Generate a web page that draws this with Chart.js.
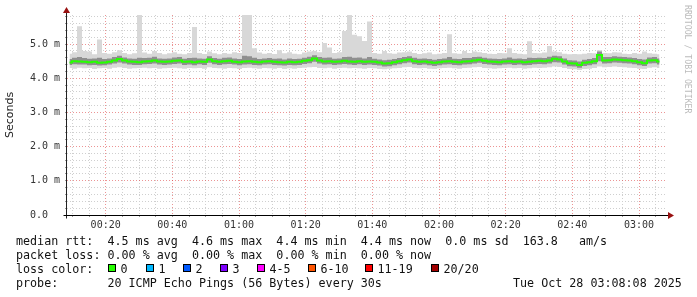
<!DOCTYPE html>
<html>
<head>
<meta charset="utf-8">
<script src="https://cdn.jsdelivr.net/npm/chart.js@4"></script>
<style>
  body { margin: 0; background: #fff; }
  #wrap { position: relative; width: 697px; height: 297px; overflow: hidden; }
  #chart { position: absolute; left: 0; top: 0; }
  .txt { position: absolute; font-family: 'DejaVu Sans Mono', monospace; font-size: 11.7px; line-height: 14px; color: #111; white-space: pre; }
  .sq { position: absolute; width: 8px; height: 8px; box-sizing: border-box; border: 1px solid #000; }
  #mark { position: absolute; left: 683px; top: 5px; writing-mode: vertical-rl; font-family: 'DejaVu Sans Mono', monospace; font-size: 8.2px; color: #bbb; white-space: pre; }
</style>
</head>
<body>
<div id="wrap">
  <canvas id="chart" width="697" height="297"></canvas>
  <div id="mark">RRDTOOL / TOBI OETIKER</div>
  <div class="txt" style="left:16px; top:234px;">median rtt:  4.5 ms avg  4.6 ms max  4.4 ms min  4.4 ms now  0.0 ms sd  163.8   am/s</div>
  <div class="txt" style="left:16px; top:248px;">packet loss: 0.00 % avg  0.00 % max  0.00 % min  0.00 % now</div>
  <div class="txt" style="left:16px; top:262px;">loss color:</div>
  <div id="lossLegend"></div>
  <div class="txt" style="left:16px; top:276px;">probe:       20 ICMP Echo Pings (56 Bytes) every 30s</div>
  <div class="txt" style="left:513px; top:276px;">Tue Oct 28 03:08:08 2025</div>
</div>
<script>
// time window in minutes after midnight (00:08:24 .. 03:08:24), one bucket = 1.5 min
const windowStart = 8.4;
const windowEnd = 188.4;
const bucketStep = 1.5;

const timeLabels = ['00:20', '00:40', '01:00', '01:20', '01:40', '02:00', '02:20', '02:40', '03:00'];
const yTickLabels = ['0.0  ', '1.0 m', '2.0 m', '3.0 m', '4.0 m', '5.0 m'];

// loss legend
const lossLabels = ['0', '1', '2', '3', '4-5', '6-10', '11-19', '20/20'];
const lossColors = ['#26ff00', '#00b8ff', '#0059ff', '#7e00ff', '#ff00ff', '#ff5500', '#ff0000', '#a10000'];
const lossX = [108, 146, 183, 220, 257, 308, 365, 431];

// rtt per bucket (ms)
const rttMedian = [
  4.46, 4.50, 4.49, 4.48, 4.47, 4.48, 4.45, 4.46, 4.48, 4.52,
  4.56, 4.52, 4.49, 4.48, 4.47, 4.49, 4.50, 4.52, 4.49, 4.48,
  4.49, 4.51, 4.52, 4.48, 4.49, 4.47, 4.49, 4.48, 4.55, 4.50,
  4.48, 4.50, 4.51, 4.48, 4.47, 4.49, 4.50, 4.48, 4.47, 4.49,
  4.50, 4.48, 4.47, 4.46, 4.48, 4.47, 4.48, 4.51, 4.53, 4.58,
  4.52, 4.49, 4.50, 4.48, 4.49, 4.51, 4.49, 4.48, 4.50, 4.48,
  4.49, 4.48, 4.46, 4.43, 4.44, 4.47, 4.50, 4.53, 4.55, 4.50,
  4.48, 4.49, 4.47, 4.45, 4.47, 4.49, 4.50, 4.48, 4.47, 4.49,
  4.50, 4.52, 4.54, 4.51, 4.49, 4.48, 4.47, 4.49, 4.50, 4.48,
  4.49, 4.47, 4.48, 4.50, 4.51, 4.50, 4.52, 4.57, 4.55, 4.49,
  4.44, 4.43, 4.39, 4.45, 4.47, 4.50, 4.68, 4.52, 4.53, 4.55,
  4.54, 4.53, 4.52, 4.50, 4.47, 4.44, 4.52, 4.53, 4.49
];
const rttMax = [
  4.72, 4.76, 5.52, 4.80, 4.78, 4.70, 5.13, 4.74, 4.72, 4.76,
  4.82, 4.74, 4.70, 4.73, 5.86, 4.75, 4.72, 4.80, 4.74, 4.70,
  4.73, 4.76, 4.72, 4.70, 4.74, 5.50, 4.74, 4.71, 4.78, 4.73,
  4.70, 4.74, 4.72, 4.76, 4.74, 5.86, 5.86, 4.88, 4.75, 4.72,
  4.74, 4.71, 4.82, 4.73, 4.76, 4.72, 4.70, 4.75, 4.78, 4.80,
  4.76, 5.03, 4.90, 4.74, 4.76, 5.38, 5.88, 5.27, 5.23, 5.09,
  5.66, 4.74, 4.72, 4.80, 4.73, 4.72, 4.75, 4.76, 4.78, 4.74,
  4.71, 4.73, 4.75, 4.70, 4.72, 4.74, 5.29, 4.73, 4.72, 4.80,
  4.74, 4.78, 4.76, 4.74, 4.72, 4.71, 4.74, 4.73, 4.88, 4.74,
  4.72, 4.70, 5.08, 4.74, 4.73, 4.75, 4.94, 4.78, 4.76, 4.72,
  4.70, 4.71, 4.70, 4.72, 4.74, 4.73, 4.82, 4.74, 4.73, 4.76,
  4.75, 4.72, 4.71, 4.74, 4.72, 4.78, 4.73, 4.72, 4.70
];
const rttMin = [
  4.30, 4.28, 4.31, 4.29, 4.30, 4.27, 4.29, 4.30, 4.28, 4.31,
  4.32, 4.30, 4.28, 4.29, 4.30, 4.31, 4.29, 4.30, 4.28, 4.29,
  4.30, 4.31, 4.29, 4.28, 4.30, 4.29, 4.30, 4.28, 4.32, 4.30,
  4.29, 4.28, 4.30, 4.29, 4.27, 4.30, 4.31, 4.29, 4.28, 4.30,
  4.29, 4.28, 4.30, 4.27, 4.29, 4.28, 4.30, 4.31, 4.32, 4.33,
  4.30, 4.29, 4.31, 4.28, 4.30, 4.31, 4.29, 4.30, 4.29, 4.28,
  4.30, 4.29, 4.27, 4.26, 4.28, 4.29, 4.30, 4.32, 4.33, 4.30,
  4.29, 4.30, 4.28, 4.27, 4.29, 4.30, 4.31, 4.29, 4.28, 4.30,
  4.31, 4.32, 4.33, 4.30, 4.29, 4.28, 4.29, 4.30, 4.31, 4.29,
  4.30, 4.28, 4.29, 4.31, 4.30, 4.31, 4.32, 4.34, 4.33, 4.30,
  4.27, 4.26, 4.24, 4.27, 4.28, 4.30, 4.34, 4.32, 4.33, 4.34,
  4.33, 4.32, 4.31, 4.30, 4.28, 4.27, 4.31, 4.32, 4.30
];
const rttLow = [
  4.39, 4.41, 4.40, 4.40, 4.38, 4.39, 4.37, 4.38, 4.40, 4.43,
  4.46, 4.43, 4.40, 4.39, 4.39, 4.41, 4.42, 4.43, 4.40, 4.39,
  4.40, 4.42, 4.43, 4.39, 4.40, 4.38, 4.41, 4.39, 4.45, 4.41,
  4.39, 4.41, 4.42, 4.40, 4.38, 4.40, 4.41, 4.39, 4.38, 4.40,
  4.41, 4.39, 4.38, 4.37, 4.39, 4.38, 4.39, 4.42, 4.44, 4.48,
  4.43, 4.40, 4.41, 4.39, 4.40, 4.42, 4.40, 4.39, 4.41, 4.39,
  4.40, 4.39, 4.37, 4.34, 4.35, 4.38, 4.41, 4.44, 4.46, 4.41,
  4.39, 4.40, 4.38, 4.36, 4.38, 4.40, 4.41, 4.39, 4.38, 4.40,
  4.41, 4.43, 4.45, 4.42, 4.40, 4.39, 4.38, 4.40, 4.41, 4.39,
  4.40, 4.38, 4.39, 4.41, 4.42, 4.41, 4.43, 4.47, 4.46, 4.40,
  4.35, 4.34, 4.31, 4.36, 4.38, 4.41, 4.50, 4.43, 4.44, 4.46,
  4.45, 4.44, 4.43, 4.41, 4.38, 4.36, 4.43, 4.44, 4.40
];
const rttHigh = [
  4.56, 4.60, 4.62, 4.59, 4.57, 4.58, 4.60, 4.56, 4.58, 4.62,
  4.66, 4.61, 4.58, 4.57, 4.60, 4.59, 4.60, 4.63, 4.58, 4.57,
  4.58, 4.61, 4.62, 4.57, 4.59, 4.60, 4.58, 4.57, 4.64, 4.59,
  4.57, 4.60, 4.61, 4.58, 4.56, 4.66, 4.64, 4.60, 4.56, 4.58,
  4.59, 4.57, 4.58, 4.55, 4.58, 4.56, 4.57, 4.60, 4.63, 4.67,
  4.62, 4.60, 4.61, 4.57, 4.58, 4.62, 4.63, 4.60, 4.61, 4.58,
  4.62, 4.57, 4.55, 4.53, 4.54, 4.56, 4.59, 4.62, 4.64, 4.60,
  4.57, 4.58, 4.56, 4.54, 4.56, 4.58, 4.62, 4.57, 4.56, 4.59,
  4.59, 4.62, 4.63, 4.60, 4.58, 4.57, 4.56, 4.58, 4.61, 4.57,
  4.58, 4.56, 4.60, 4.59, 4.60, 4.59, 4.63, 4.66, 4.64, 4.58,
  4.53, 4.52, 4.49, 4.54, 4.56, 4.59, 4.78, 4.62, 4.62, 4.64,
  4.63, 4.62, 4.61, 4.59, 4.56, 4.55, 4.61, 4.62, 4.58
];

// loss colour legend squares
const lossBox = document.getElementById('lossLegend');
lossLabels.forEach((lbl, i) => {
    const sq = document.createElement('div');
    sq.className = 'sq';
    sq.style.left = lossX[i] + 'px';
    sq.style.top = '264px';
    sq.style.background = lossColors[i];
    lossBox.appendChild(sq);
    const t = document.createElement('div');
    t.className = 'txt';
    t.style.left = (lossX[i] + 12.5) + 'px';
    t.style.top = '262px';
    t.textContent = lbl;
    lossBox.appendChild(t);
});

function toMinutes(label) {
    const parts = label.split(':');
    return parseInt(parts[0], 10) * 60 + parseInt(parts[1], 10);
}
const majorMinutes = timeLabels.map(toMinutes);

function series(values) {
    return values.map((v, i) => ({ x: windowStart + bucketStep * i + bucketStep / 2, y: v }));
}

// solid axis lines with the little red arrows, like rrdtool
const axisArrows = {
    id: 'axisArrows',
    afterDraw(chart) {
        const { ctx, chartArea } = chart;
        const l = Math.round(chartArea.left) - 0.5;
        const b = Math.round(chartArea.bottom) + 0.5;
        ctx.save();
        ctx.lineWidth = 1;
        ctx.strokeStyle = '#222';
        ctx.beginPath();
        ctx.moveTo(l, chartArea.top - 3);
        ctx.lineTo(l, b + 3);
        ctx.stroke();
        ctx.strokeStyle = '#000';
        ctx.beginPath();
        ctx.moveTo(l - 3, b);
        ctx.lineTo(chartArea.right + 2, b);
        ctx.stroke();
        ctx.fillStyle = '#991111';
        ctx.beginPath();
        ctx.moveTo(l, chartArea.top - 8);
        ctx.lineTo(l - 3.5, chartArea.top - 2);
        ctx.lineTo(l + 3.5, chartArea.top - 2);
        ctx.closePath();
        ctx.fill();
        ctx.beginPath();
        ctx.moveTo(chartArea.right + 7, b);
        ctx.lineTo(chartArea.right + 1, b - 3.5);
        ctx.lineTo(chartArea.right + 1, b + 3.5);
        ctx.closePath();
        ctx.fill();
        ctx.restore();
    }
};

Chart.defaults.font.family = "'DejaVu Sans Mono', monospace";
Chart.defaults.font.size = 10;
Chart.defaults.color = '#333';

const ctx = document.getElementById('chart').getContext('2d');
new Chart(ctx, {
    type: 'line',
    data: {
        datasets: [
            { data: series(rttMin), borderWidth: 0, pointRadius: 0, stepped: 'middle', fill: false, order: 5 },
            { data: series(rttMax), borderWidth: 0, pointRadius: 0, stepped: 'middle', fill: '-1', backgroundColor: '#d8d8d8', order: 4 },
            { data: series(rttLow), borderWidth: 0, pointRadius: 0, stepped: 'middle', fill: false, order: 3 },
            { data: series(rttHigh), borderWidth: 0, pointRadius: 0, stepped: 'middle', fill: '-1', backgroundColor: '#8f8f8f', order: 2 },
            { data: series(rttMedian), borderColor: '#26ff00', borderWidth: 2, pointRadius: 0, stepped: 'middle', fill: false, order: 1 }
        ]
    },
    options: {
        responsive: false,
        animation: false,
        layout: { padding: { left: 0, top: 15, right: 30, bottom: 0 } },
        plugins: {
            legend: { display: false },
            tooltip: { enabled: false }
        },
        scales: {
            x: {
                type: 'linear',
                min: windowStart,
                max: windowEnd,
                afterBuildTicks: function(scale) {
                    const ticks = [];
                    for (let m = 10; m < windowEnd; m += 5) ticks.push({ value: m });
                    scale.ticks = ticks;
                },
                afterFit: function(scale) { scale.height = 82; },
                ticks: {
                    autoSkip: false,
                    maxRotation: 0,
                    padding: 2,
                    callback: function(value) {
                        const idx = majorMinutes.indexOf(value);
                        return idx >= 0 ? timeLabels[idx] : '';
                    }
                },
                grid: {
                    color: c => majorMinutes.includes(c.tick && c.tick.value) ? 'rgba(220,60,60,0.55)' : '#cfcfcf',
                    tickColor: '#999',
                    tickLength: 2
                },
                border: { display: false, dash: [1, 2] }
            },
            y: {
                min: 0,
                max: 5.85,
                afterBuildTicks: function(scale) {
                    const ticks = [];
                    for (let k = 0; k <= 29; k++) ticks.push({ value: k / 5 });
                    scale.ticks = ticks;
                },
                afterFit: function(scale) { scale.width = 67; },
                ticks: {
                    autoSkip: false,
                    padding: 5,
                    callback: function(value) {
                        const r = Math.round(value * 5);
                        return r % 5 === 0 ? yTickLabels[r / 5] : '';
                    }
                },
                grid: {
                    color: c => (c.tick && Math.round(c.tick.value * 5) % 5 === 0) ? 'rgba(220,60,60,0.55)' : '#cfcfcf',
                    tickColor: '#999',
                    tickLength: 2
                },
                border: { display: false, dash: [1, 2] },
                title: {
                    display: true,
                    text: 'Seconds',
                    color: '#222',
                    font: { family: "'DejaVu Sans', sans-serif", size: 11 },
                    padding: { top: 4, bottom: 0 }
                }
            }
        }
    },
    plugins: [axisArrows]
});
</script>
</body>
</html>
